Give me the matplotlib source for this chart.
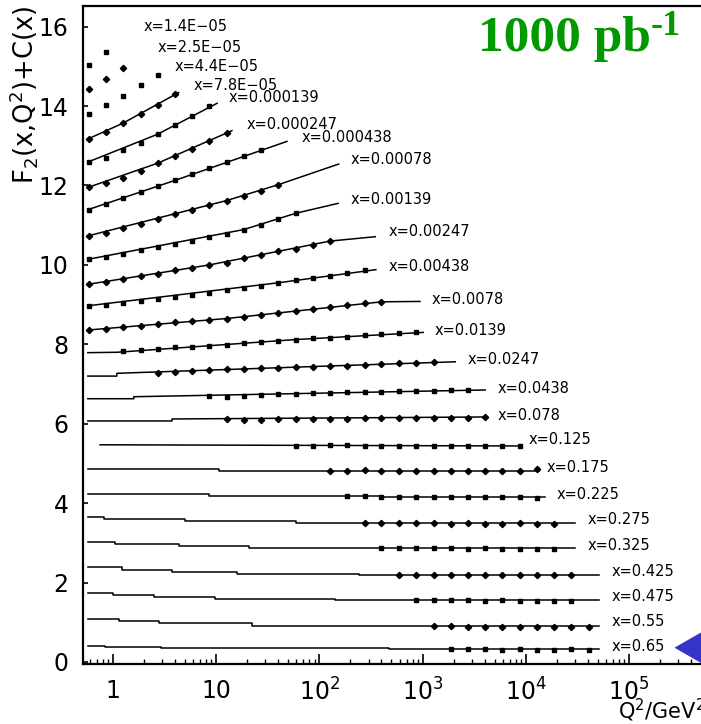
import matplotlib
matplotlib.use("Agg")
import matplotlib.pyplot as plt
from matplotlib.ticker import FixedLocator, LogLocator, NullFormatter

# Q^2 bin centres (GeV^2) shared by all x bins
q2_grid = [0.58, 0.85, 1.25, 1.85, 2.7, 4.0, 5.8, 8.6, 12.6, 18.5, 27, 40, 59, 86, 127,
           186, 274, 400, 590, 870, 1280, 1870, 2750, 4040, 5940, 8730, 12800, 18800, 27700, 40700]

x_bins = ["1.4E\u221205", "2.5E\u221205", "4.4E\u221205", "7.8E\u221205", "0.000139", "0.000247",
          "0.000438", "0.00078", "0.00139", "0.00247", "0.00438", "0.0078", "0.0139", "0.0247",
          "0.0438", "0.078", "0.125", "0.175", "0.225", "0.275", "0.325", "0.425", "0.475",
          "0.55", "0.65"]

# index into q2_grid of the first measured point of each x bin
point_start = [0, 0, 0, 0, 0, 0, 0, 0, 0, 0, 0, 0, 2, 4, 7, 8, 12, 14, 15, 16, 17, 18, 19, 20, 21]

# F2 + C(x) of the simulated points
point_f2 = [
    [15.03, 15.35],
    [14.44, 14.69, 14.97],
    [13.80, 14.02, 14.26, 14.53, 14.79],
    [13.17, 13.35, 13.57, 13.80, 14.03, 14.30],
    [12.59, 12.70, 12.90, 13.08, 13.29, 13.52, 13.74, 14.00],
    [11.95, 12.07, 12.20, 12.37, 12.56, 12.75, 12.91, 13.12, 13.33],
    [11.39, 11.54, 11.69, 11.84, 11.99, 12.13, 12.28, 12.44, 12.59, 12.74, 12.89],
    [10.73, 10.81, 10.94, 11.04, 11.15, 11.27, 11.38, 11.50, 11.62, 11.73, 11.86, 12.02],
    [10.14, 10.21, 10.28, 10.37, 10.44, 10.52, 10.61, 10.70, 10.79, 10.89, 11.00, 11.16, 11.30],
    [9.51, 9.57, 9.65, 9.72, 9.78, 9.87, 9.92, 10.00, 10.06, 10.17, 10.25, 10.35, 10.41, 10.50, 10.60],
    [8.97, 8.99, 9.04, 9.09, 9.15, 9.19, 9.24, 9.30, 9.36, 9.43, 9.47, 9.55, 9.61, 9.67, 9.73, 9.79, 9.87],
    [8.36, 8.38, 8.44, 8.46, 8.51, 8.55, 8.59, 8.61, 8.65, 8.70, 8.75, 8.79, 8.84, 8.89, 8.94, 8.99,
     9.04, 9.07],
    [7.83, 7.86, 7.89, 7.92, 7.94, 7.97, 7.99, 8.03, 8.06, 8.09, 8.12, 8.15, 8.17, 8.19, 8.23, 8.25,
     8.29, 8.32],
    [7.29, 7.31, 7.33, 7.35, 7.37, 7.38, 7.40, 7.41, 7.42, 7.44, 7.45, 7.46, 7.48, 7.50, 7.52, 7.54, 7.56],
    [6.70, 6.68, 6.69, 6.73, 6.74, 6.76, 6.77, 6.78, 6.79, 6.79, 6.81, 6.82, 6.83, 6.83, 6.84, 6.85],
    [6.12, 6.10, 6.10, 6.13, 6.13, 6.13, 6.13, 6.13, 6.14, 6.14, 6.15, 6.15, 6.15, 6.15, 6.15, 6.17],
    [5.45, 5.45, 5.46, 5.46, 5.45, 5.45, 5.44, 5.45, 5.44, 5.44, 5.45, 5.44, 5.44, 5.45],
    [4.82, 4.82, 4.83, 4.82, 4.81, 4.82, 4.82, 4.81, 4.82, 4.81, 4.82, 4.81, 4.86],
    [4.17, 4.17, 4.16, 4.16, 4.15, 4.16, 4.15, 4.16, 4.15, 4.15, 4.15, 4.14],
    [3.50, 3.50, 3.49, 3.49, 3.49, 3.48, 3.49, 3.48, 3.48, 3.49, 3.48, 3.47],
    [2.87, 2.86, 2.86, 2.86, 2.86, 2.85, 2.86, 2.85, 2.85, 2.85, 2.85],
    [2.19, 2.19, 2.19, 2.18, 2.19, 2.18, 2.18, 2.18, 2.18, 2.18, 2.18],
    [1.55, 1.55, 1.55, 1.55, 1.54, 1.55, 1.54, 1.54, 1.54, 1.54],
    [0.90, 0.90, 0.89, 0.89, 0.89, 0.89, 0.88, 0.89, 0.88, 0.88],
    [0.32, 0.32, 0.32, 0.31, 0.32, 0.31, 0.31, 0.32, 0.31],
]

# QCD fit curves, as (Q^2, F2 + C) nodes
theory_q2 = [
    [], [], [],
    [0.57, 1.25, 4.33],
    [0.57, 2.7, 10.2],
    [0.57, 2.7, 14.2],
    [0.57, 4.0, 48.5],
    [0.57, 12.6, 40, 154],
    [0.57, 18.5, 59, 152],
    [0.57, 8.6, 127, 348],
    [0.57, 40, 353],
    [0.57, 12.6, 400, 944],
    [0.57, 1.1, 59, 1016],
    [0.57, 1.09, 1.09, 86, 2075],
    [0.57, 1.59, 1.59, 4050],
    [0.57, 3.73, 3.73, 4025],
    [0.75, 9190],
    [0.57, 10.6, 10.6, 13330],
    [0.57, 8.45, 8.45, 400, 400, 15450],
    [0.57, 0.81, 0.81, 5.0, 5.0, 60, 60, 30200],
    [0.57, 1.05, 1.05, 4.33, 4.33, 20.6, 20.6, 30200],
    [0.57, 1.22, 1.22, 3.73, 3.73, 15.9, 15.9, 240, 240, 50800],
    [0.57, 1.0, 1.0, 2.48, 2.48, 9.8, 9.8, 141, 141, 50800],
    [0.57, 1.14, 1.14, 2.8, 2.8, 22, 22, 50800],
    [0.57, 0.84, 0.84, 2.9, 2.9, 470, 470, 50800],
]
theory_f2 = [
    [], [], [],
    [13.17, 13.57, 14.34],
    [12.59, 13.29, 14.07],
    [11.95, 12.56, 13.38],
    [11.39, 12.13, 13.11],
    [10.73, 11.62, 12.02, 12.54],
    [10.14, 10.89, 11.30, 11.55],
    [9.51, 10.00, 10.60, 10.71],
    [8.97, 9.55, 9.88],
    [8.36, 8.65, 9.07, 9.08],
    [7.79, 7.80, 8.12, 8.30],
    [7.20, 7.20, 7.27, 7.44, 7.56],
    [6.63, 6.63, 6.68, 6.85],
    [6.07, 6.07, 6.12, 6.17],
    [5.47, 5.44],
    [4.85, 4.85, 4.82, 4.82],
    [4.22, 4.22, 4.18, 4.18, 4.15, 4.15],
    [3.66, 3.66, 3.61, 3.61, 3.55, 3.55, 3.49, 3.49],
    [3.03, 3.03, 2.98, 2.98, 2.93, 2.93, 2.86, 2.86],
    [2.40, 2.40, 2.32, 2.32, 2.27, 2.27, 2.22, 2.22, 2.18, 2.18],
    [1.75, 1.75, 1.69, 1.69, 1.64, 1.64, 1.59, 1.59, 1.55, 1.55],
    [1.08, 1.08, 1.03, 1.03, 0.97, 0.97, 0.90, 0.90],
    [0.41, 0.41, 0.37, 0.37, 0.34, 0.34, 0.32, 0.32],
]

# where each "x=..." label sits (Q^2, F2 + C), left-aligned
label_q2 = [1.98, 2.73, 3.96, 6.05, 13.2, 19.9, 67.8, 199, 199, 465, 465, 1225, 1318, 2723,
            5380, 5380, 10620, 16040, 20040, 40080, 40080, 68420, 68420, 68420, 68420]
label_f2 = [16.00, 15.47, 14.99, 14.51, 14.21, 13.54, 13.21, 12.66, 11.65, 10.84, 9.96, 9.12,
            8.36, 7.63, 6.88, 6.21, 5.60, 4.89, 4.22, 3.59, 2.94, 2.27, 1.64, 1.03, 0.40]

decade_ticks = [1, 10, 100, 1000, 10000, 100000]
decade_labels = ["1", "10", "$10^{2}$", "$10^{3}$", "$10^{4}$", "$10^{5}$"]
y_ticks = [0, 2, 4, 6, 8, 10, 12, 14, 16]

fig = plt.figure(figsize=(7.01, 7.24), dpi=100)
ax = fig.add_axes([82.5 / 701, 1 - 663.5 / 724, 1 - 82.5 / 701, (663.5 - 6) / 724])

for index, x_value in enumerate(x_bins):
    if theory_q2[index]:
        ax.plot(theory_q2[index], theory_f2[index], color="black", linewidth=1.1)
    start = point_start[index]
    q2_values = q2_grid[start:start + len(point_f2[index])]
    marker = "s" if index % 2 == 0 else "D"
    ax.plot(q2_values, point_f2[index], linestyle="none", marker=marker,
            markersize=3.4 if marker == "s" else 3.2, color="black")
    ax.text(label_q2[index], label_f2[index], f"x={x_value}", fontsize=10.5, ha="left",
            va="center", clip_on=False)

# arrow pointing at the highest x bin
ax.annotate("", xy=(2.6e5, 0.36), xytext=(7.5e5, 0.36), annotation_clip=False,
            arrowprops=dict(arrowstyle="simple,head_length=1.0,head_width=1.15,tail_width=0.45",
                            mutation_scale=20, color="#3434c8", linewidth=0))

ax.set_xscale("log")
ax.set_xlim(0.506, 5.0e5)
ax.set_ylim(-0.038, 16.52)

ax.xaxis.set_major_locator(FixedLocator(decade_ticks))
ax.set_xticklabels(decade_labels)
ax.xaxis.set_minor_locator(LogLocator(base=10, subs=range(2, 10), numticks=20))
ax.xaxis.set_minor_formatter(NullFormatter())
ax.set_yticks(y_ticks)
ax.set_yticklabels([str(v) for v in y_ticks])

ax.tick_params(axis="x", which="major", direction="in", length=7, width=1.2, labelsize=17, pad=11)
ax.tick_params(axis="x", which="minor", direction="in", length=3.5, width=1.0)
ax.tick_params(axis="y", which="major", direction="in", length=3.5, width=1.2, labelsize=17, pad=10)
ax.tick_params(top=False, right=False)

for side in ["left", "bottom", "top"]:
    ax.spines[side].set_linewidth(1.6)
ax.spines["right"].set_visible(False)

fig.text(24 / 701, 1 - 6 / 724, r"F$_2$(x,Q$^2$)+C(x)", rotation=90, ha="center", va="top",
         fontsize=18.5)
fig.text(618 / 701, 1 - 710 / 724, r"Q$^2$/GeV$^2$", ha="left", va="center", fontsize=15)

fig.text(478 / 701, 1 - 51 / 724, "1000 pb", fontsize=37, fontweight="bold",
         family="Liberation Serif", color="#009900", va="baseline", ha="left")
fig.text(651 / 701, 1 - 35 / 724, "-1", fontsize=26, fontweight="bold",
         family="Liberation Serif", color="#009900", va="baseline", ha="left")

fig.savefig("out.png", dpi=100)
